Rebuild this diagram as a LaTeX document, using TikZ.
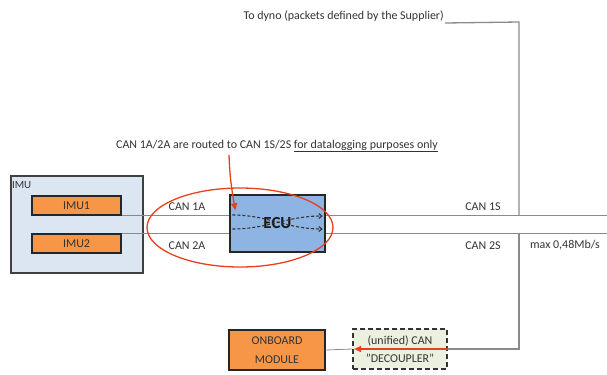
\documentclass[tikz,border=0pt]{standalone}
\usepackage{fontspec}
\setmainfont{Carlito}
\usetikzlibrary{arrows.meta}
\definecolor{imufill}{HTML}{DCE6F2}
\definecolor{ecufill}{HTML}{8EB4E3}
\definecolor{modfill}{HTML}{F79646}
\definecolor{decfill}{HTML}{EBF1DE}
\definecolor{wire}{HTML}{8A8A8A}
\definecolor{notered}{HTML}{E8401E}
\definecolor{ink}{HTML}{333333}
\begin{document}
\begin{tikzpicture}[x=1bp, y=-1bp, font=\fontsize{12}{13}\selectfont, text=ink,
    box/.style={draw=black!85, line width=1.3bp, inner sep=0pt, align=center},
    modbox/.style={box, fill=modfill},
    canline/.style={draw=wire, line width=0.8bp},
    feedline/.style={draw=wire, line width=1.3bp},
    redline/.style={draw=notered, line width=1.3bp},
    route/.style={draw=black!80, line width=1.1bp, dash pattern=on 3bp off 2bp, -{Straight Barb[length=3bp,width=5bp]}},
    label/.style={inner sep=1bp}]
    \useasboundingbox (0,0) rectangle (607,374);
    \coordinate (edge) at (607,0);
    \coordinate (corner) at (519,22);
    % Draw IMU housing and its two units
    \node[box, draw=black!75, fill=imufill, minimum width=132bp, minimum height=97bp] (imu) at (77,224.5) {};
    \node[label, anchor=north west, font=\fontsize{11}{12}\selectfont] (imulabel) at ([xshift=0.5bp,yshift=-5bp]imu.north west) {IMU};
    \node[modbox, minimum width=89bp, minimum height=19bp] (imu1) at (76.5,205.5) {IMU1};
    \node[modbox, minimum width=89bp, minimum height=19bp] (imu2) at (76.5,243.5) {IMU2};
    % Draw CAN buses across the ECU
    \draw[canline] (imu1.south east) -- (imu1.south east -| edge);
    \draw[canline] (imu2.north east) -- (imu2.north east -| edge);
    % Add ECU
    \node[box, fill=ecufill, minimum width=95bp, minimum height=57bp, text=black!90, font=\fontsize{17}{19}\selectfont\bfseries] (ecu) at (277.5,223.5) {ECU};
    \draw[route] ([xshift=3bp,yshift=8.5bp]ecu.west) to[out=0,in=180] ([xshift=-3bp,yshift=-5.5bp]ecu.east);
    \draw[route] ([xshift=3bp,yshift=-5.5bp]ecu.west) to[out=0,in=180] ([xshift=-3bp,yshift=7.5bp]ecu.east);
    % Add bus labels
    \node[label] (can1a) at (187,207) {CAN 1A};
    \node[label] (can2a) at (187,245.5) {CAN 2A};
    \node[label] (can1s) at (483,207) {CAN 1S};
    \node[label] (can2s) at (483,245.5) {CAN 2S};
    \node[label] (rate) at (565,245.5) {max 0,48Mb/s};
    % Draw link to dyno
    \node[label, anchor=south east] (dyno) at (445,23) {To dyno (packets defined by the Supplier)};
    \draw[feedline] (dyno.south east) -- (corner) -- (corner |- imu1.south east);
    % Add onboard module and decoupler
    \node[modbox, minimum width=96bp, minimum height=40bp] (onboard) at (277,350) {ONBOARD\\[6bp]MODULE};
    \node[box, draw=black!80, dash pattern=on 5bp off 3bp, line width=1.8bp, fill=decfill, minimum width=94bp, minimum height=40bp] (decoupler) at (400,349) {(unified) CAN\\[5bp]"DECOUPLER"};
    \draw[feedline] (corner |- imu2.north east) |- (decoupler.east);
    \draw[canline] (decoupler.west) -- (onboard.east);
    \draw[redline, -{Triangle[length=7bp,width=6bp]}] (decoupler.east) -- ([xshift=2bp]decoupler.west);
    % Draw datalogging note
    \node[label] (note) at (277,146) {CAN 1A/2A are routed to CAN 1S/2S \underline{for datalogging purposes only}};
    \draw[redline, -{Triangle[length=7bp,width=6bp]}] (229,155) to[out=-88,in=100] ([xshift=6bp,yshift=-16bp]ecu.north west);
    \draw[redline] (240,227.5) ellipse (93 and 39.5);
\end{tikzpicture}
\end{document}
